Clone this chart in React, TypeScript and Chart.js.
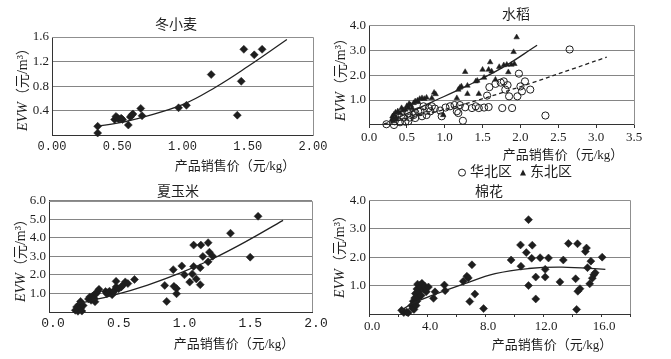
import React, { useEffect, useRef } from 'react';
import { Chart, registerables } from 'chart.js';

Chart.register(...registerables);

const W = 671;
const H = 359;

// ---------- 冬小麦 ----------
const wheatPoints: number[][] = [
  [0.35, 0.15], [0.35, 0.04], [0.48, 0.26], [0.49, 0.31], [0.5, 0.29], [0.51, 0.27],
  [0.53, 0.28], [0.54, 0.26], [0.585, 0.17], [0.6, 0.3], [0.61, 0.33], [0.62, 0.35],
  [0.68, 0.44], [0.69, 0.32], [0.97, 0.45], [1.03, 0.49], [1.22, 0.99], [1.42, 0.33],
  [1.45, 0.88], [1.47, 1.4], [1.55, 1.31], [1.61, 1.4],
];
const wheatFit: number[][] = [
  [0.35, 0.15], [0.5, 0.2], [0.7, 0.3], [1.0, 0.5], [1.25, 0.78], [1.5, 1.12], [1.8, 1.56],
];
const wheatXTicks = [0, 0.5, 1, 1.5, 2];
const wheatYTicks = [0, 0.4, 0.8, 1.2, 1.6];

// ---------- 水稻 ----------
const riceNorthChina: number[][] = [
  [0.23, 0.03], [0.33, 0.0], [0.34, 0.15], [0.41, 0.11], [0.43, 0.4], [0.46, 0.3], [0.48, 0.13],
  [0.52, 0.47], [0.52, 0.15], [0.54, 0.3], [0.59, 0.4], [0.61, 0.28], [0.61, 0.5], [0.65, 0.55],
  [0.68, 0.56], [0.7, 0.35], [0.72, 0.75], [0.76, 0.4], [0.79, 0.68], [0.81, 0.55], [0.83, 0.75],
  [0.87, 0.66], [0.94, 0.58], [0.96, 0.35], [1.01, 0.7], [1.07, 0.75], [1.13, 0.8], [1.16, 0.55],
  [1.2, 0.8], [1.18, 0.48], [1.24, 0.17], [1.27, 0.71], [1.36, 0.68], [1.41, 0.75], [1.45, 0.68],
  [1.52, 0.7], [1.58, 0.72], [1.56, 1.18], [1.59, 1.52], [1.67, 1.65], [1.74, 1.7], [1.76, 0.68],
  [1.78, 1.75], [1.8, 1.42], [1.83, 1.6], [1.85, 1.15], [1.89, 0.68], [1.96, 1.15], [1.98, 2.06],
  [2.0, 1.55], [2.02, 1.35], [2.06, 1.75], [2.13, 1.42], [2.33, 0.38], [2.65, 3.03],
];
const riceNortheast: number[][] = [
  [0.3, 0.2], [0.31, 0.35], [0.32, 0.28], [0.32, 0.15], [0.33, 0.42], [0.35, 0.22], [0.35, 0.5],
  [0.36, 0.3], [0.38, 0.55], [0.41, 0.48], [0.43, 0.68], [0.45, 0.6], [0.48, 0.62], [0.5, 0.76],
  [0.52, 0.7], [0.53, 0.85], [0.55, 0.8], [0.57, 0.68], [0.59, 0.88], [0.61, 0.95], [0.64, 0.98],
  [0.65, 0.92], [0.67, 1.05], [0.7, 1.08], [0.73, 1.05], [0.76, 1.1], [0.83, 1.08], [0.86, 1.3],
  [0.88, 1.24], [0.98, 0.4], [1.16, 1.08], [1.18, 1.42], [1.2, 1.5], [1.22, 1.55], [1.27, 2.13],
  [1.3, 1.25], [1.3, 1.58], [1.41, 1.75], [1.43, 1.78], [1.45, 1.25], [1.5, 2.22], [1.52, 1.9],
  [1.58, 2.22], [1.6, 2.52], [1.62, 2.15], [1.67, 1.82], [1.72, 2.33], [1.78, 2.4], [1.82, 2.42],
  [1.84, 2.12], [1.88, 2.42], [1.92, 2.45], [1.91, 2.93], [1.95, 3.52],
];
const riceNorthChinaFit: number[][] = [[0.2, 0.05], [0.6, 0.33], [1.0, 0.62], [1.74, 1.28], [3.14, 2.72]];
const riceNortheastFit: number[][] = [[0.3, 0.18], [0.8, 0.88], [1.3, 1.58], [1.75, 2.28], [2.22, 3.2]];
const riceXTicks = [0, 0.5, 1, 1.5, 2, 2.5, 3, 3.5];
const riceYTicks = [0, 1, 2, 3, 4];

// ---------- 夏玉米 ----------
const cornPoints: number[][] = [
  [0.2, 0.09], [0.21, 0.27], [0.22, 0.04], [0.23, 0.4], [0.24, 0.57], [0.24, 0.2], [0.25, 0.05],
  [0.26, 0.35], [0.3, 0.7], [0.31, 0.81], [0.32, 0.63], [0.33, 0.75], [0.33, 0.85], [0.34, 0.9],
  [0.345, 0.72], [0.35, 0.55], [0.36, 1.0], [0.37, 1.12], [0.38, 1.22], [0.43, 1.1], [0.44, 0.98],
  [0.45, 1.05], [0.46, 1.12], [0.48, 0.93], [0.49, 1.08], [0.5, 1.18], [0.51, 1.65], [0.51, 1.35],
  [0.53, 1.25], [0.55, 1.35], [0.565, 1.47], [0.58, 1.62], [0.6, 1.53], [0.65, 1.75], [0.88, 1.43],
  [0.895, 0.57], [0.945, 2.28], [0.95, 1.38], [0.97, 1.26], [0.97, 0.98], [1.01, 2.48], [1.03, 2.0],
  [1.07, 1.61], [1.09, 2.05], [1.1, 2.45], [1.1, 3.6], [1.12, 1.78], [1.15, 1.47], [1.15, 2.38],
  [1.155, 3.6], [1.17, 2.99], [1.21, 3.73], [1.21, 2.7], [1.22, 3.22], [1.245, 3.0], [1.38, 4.24],
  [1.53, 2.95], [1.59, 5.15],
];
const cornFit: number[][] = [[0.22, 0.45], [0.5, 0.92], [0.75, 1.45], [1.0, 2.1], [1.25, 2.88], [1.5, 3.8], [1.78, 4.93]];
const cornXTicks = [0, 0.5, 1, 1.5, 2];
const cornYTicks = [0, 1, 2, 3, 4, 5, 6];

// ---------- 棉花 ----------
const cottonPoints: number[][] = [
  [2.25, 0.13], [2.4, 0.05], [2.6, 0.07], [2.7, 0.04], [2.95, 0.3], [3.0, 0.2], [3.05, 0.45],
  [3.1, 0.16], [3.15, 0.56], [3.2, 0.72], [3.25, 0.3], [3.3, 0.88], [3.3, 0.45], [3.35, 1.05],
  [3.4, 0.78], [3.45, 0.6], [3.5, 1.0], [3.55, 0.95], [3.6, 0.65], [3.65, 1.08], [3.75, 0.88],
  [3.8, 0.95], [3.85, 0.98], [3.95, 0.78], [4.1, 0.95], [4.45, 0.55], [4.55, 0.78], [5.2, 1.02],
  [5.25, 0.82], [6.5, 1.15], [6.75, 1.33], [6.85, 1.27], [6.95, 0.44], [7.1, 1.73], [7.3, 0.7],
  [7.9, 0.19], [9.8, 1.9], [10.45, 2.43], [10.48, 1.68], [10.85, 2.16], [11.0, 3.32], [11.0, 1.0],
  [11.22, 1.96], [11.26, 2.42], [11.5, 1.3], [11.5, 0.53], [11.8, 1.98], [12.15, 1.57], [12.15, 1.3],
  [12.38, 1.97], [13.17, 1.13], [13.4, 1.9], [13.75, 2.48], [14.25, 1.24], [14.32, 0.16],
  [14.38, 2.47], [14.4, 0.8], [14.55, 0.89], [14.92, 2.2], [15.0, 2.32], [15.07, 1.63], [15.22, 1.06],
  [15.3, 1.86], [15.4, 1.26], [15.5, 1.38], [15.6, 1.45], [16.08, 2.0],
];
const cottonFit: number[][] = [[2.2, 0.12], [3.0, 0.37], [4.5, 0.68], [6.5, 1.05], [8.7, 1.42], [11.0, 1.6], [13.3, 1.65], [16.3, 1.57]];
const cottonXTicks = [0, 2, 4, 6, 8, 10, 12, 14, 16, 18];
const cottonXLabels = [0, 4, 8, 12, 16];
const cottonYTicks = [0, 1, 2, 3, 4];

// ---------- styling ----------
const INK = '#1e1e1e';
const toXY = (arr: number[][]) => arr.map(([x, y]) => ({ x, y }));

const diamonds = (arr: number[][]) => ({
  data: toXY(arr),
  pointStyle: 'rectRot',
  pointRadius: 4,
  backgroundColor: INK,
  borderColor: INK,
  borderWidth: 0.5,
  showLine: false,
  clip: false,
});

const fitLine = (arr: number[][], dash: number[] = []) => ({
  data: toXY(arr),
  showLine: true,
  pointRadius: 0,
  borderColor: '#222',
  borderWidth: 1.3,
  borderDash: dash,
  tension: 0.4,
  fill: false,
});

const boxPlugin = {
  id: 'boxPlugin',
  beforeDatasetsDraw(chart: any) {
    const { ctx, chartArea: a } = chart;
    ctx.save();
    ctx.strokeStyle = '#8f8f8f';
    ctx.lineWidth = 1;
    const r = Math.round(a.right) + 0.5;
    const t = Math.round(a.top) + 0.5;
    ctx.beginPath();
    ctx.moveTo(Math.round(a.left), t);
    ctx.lineTo(r, t);
    ctx.lineTo(r, Math.round(a.bottom));
    ctx.stroke();
    ctx.restore();
  },
};

type Spec = {
  area: [number, number, number, number];
  xTicks: number[];
  xFmt: (v: number) => string;
  xFont: string;
  xSize: number;
  xMarks: boolean;
  xOffset: number;
  yTicks: number[];
  yFmt: (v: number) => string;
  datasets: any[];
};

function buildConfig(s: Spec): any {
  const [l, t, r, b] = s.area;
  const YW = 40;
  const XH = 22;
  return {
    type: 'scatter',
    data: { datasets: s.datasets },
    options: {
      responsive: false,
      animation: false,
      devicePixelRatio: 1,
      events: [],
      layout: { padding: { left: l - YW, top: t, right: W - r, bottom: H - b - XH } },
      plugins: { legend: { display: false }, tooltip: { enabled: false } },
      scales: {
        x: {
          type: 'linear',
          position: 'bottom',
          min: s.xTicks[0],
          max: s.xTicks[s.xTicks.length - 1],
          afterFit: (sc: any) => { sc.height = XH; },
          afterBuildTicks: (sc: any) => { sc.ticks = s.xTicks.map((v) => ({ value: v })); },
          ticks: {
            autoSkip: false,
            maxRotation: 0,
            padding: s.xMarks ? 2 : 4,
            labelOffset: s.xOffset,
            color: INK,
            font: { family: s.xFont, size: s.xSize },
            callback: (v: any) => s.xFmt(Number(v)),
          },
          grid: { drawOnChartArea: false, drawTicks: s.xMarks, tickLength: 3, color: '#333' },
          border: { color: '#333', width: 1 },
        },
        y: {
          type: 'linear',
          min: s.yTicks[0],
          max: s.yTicks[s.yTicks.length - 1],
          afterFit: (sc: any) => { sc.width = YW; },
          afterBuildTicks: (sc: any) => { sc.ticks = s.yTicks.map((v) => ({ value: v })); },
          ticks: {
            autoSkip: false,
            padding: 3,
            color: INK,
            font: { family: "'Liberation Serif', serif", size: 13 },
            callback: (v: any) => s.yFmt(Number(v)),
          },
          grid: { color: '#858585', lineWidth: 1, drawTicks: false },
          border: { color: '#333', width: 1 },
        },
      },
    },
    plugins: [boxPlugin],
  };
}

const yOne = (v: number) => (v === 0 ? '' : v.toFixed(1));

const specs: Spec[] = [
  {
    area: [52, 37, 313, 135.5],
    xTicks: wheatXTicks,
    xFmt: (v) => v.toFixed(2),
    xFont: "'Liberation Mono', monospace",
    xSize: 12,
    xMarks: false,
    xOffset: 0,
    yTicks: wheatYTicks,
    yFmt: yOne,
    datasets: [fitLine(wheatFit), diamonds(wheatPoints)],
  },
  {
    area: [369, 25.3, 634, 125],
    xTicks: riceXTicks,
    xFmt: (v) => v.toFixed(1),
    xFont: "'Liberation Serif', serif",
    xSize: 13,
    xMarks: true,
    xOffset: 0,
    yTicks: riceYTicks,
    yFmt: yOne,
    datasets: [
      fitLine(riceNortheastFit),
      fitLine(riceNorthChinaFit, [4, 3]),
      {
        label: '华北区',
        data: toXY(riceNorthChina),
        pointStyle: 'circle',
        pointRadius: 3.6,
        backgroundColor: 'rgba(255,255,255,0)',
        borderColor: INK,
        borderWidth: 1,
        showLine: false,
        clip: false,
      },
      {
        label: '东北区',
        data: toXY(riceNortheast),
        pointStyle: 'triangle',
        pointRadius: 3.2,
        backgroundColor: INK,
        borderColor: INK,
        borderWidth: 0.5,
        showLine: false,
        clip: false,
      },
    ],
  },
  {
    area: [49, 200.5, 312, 312],
    xTicks: cornXTicks,
    xFmt: (v) => v.toFixed(1),
    xFont: "'Liberation Mono', monospace",
    xSize: 13,
    xMarks: false,
    xOffset: 4,
    yTicks: cornYTicks,
    yFmt: yOne,
    datasets: [fitLine(cornFit), diamonds(cornPoints)],
  },
  {
    area: [369, 200.3, 630, 314],
    xTicks: cottonXTicks,
    xFmt: (v) => (cottonXLabels.includes(v) ? v.toFixed(1) : ''),
    xFont: "'Liberation Serif', serif",
    xSize: 13,
    xMarks: true,
    xOffset: 3,
    yTicks: cottonYTicks,
    yFmt: yOne,
    datasets: [fitLine(cottonFit), diamonds(cottonPoints)],
  },
];

function Panel({ spec }: { spec: Spec }) {
  const ref = useRef<HTMLCanvasElement>(null);
  useEffect(() => {
    const chart = new Chart(ref.current as HTMLCanvasElement, buildConfig(spec));
    return () => chart.destroy();
  }, [spec]);
  return (
    <canvas
      ref={ref}
      width={W}
      height={H}
      style={{ position: 'absolute', left: 0, top: 0, width: W, height: H }}
    />
  );
}

const FONT = "'Liberation Serif', 'Noto Sans CJK SC', serif";

function Label({ x, y, size = 13, rotate = false, children }: any) {
  return (
    <div
      style={{
        position: 'absolute',
        left: x,
        top: y,
        transform: `translate(-50%, -50%)${rotate ? ' rotate(-90deg)' : ''}`,
        whiteSpace: 'nowrap',
        fontFamily: FONT,
        fontSize: size,
        color: INK,
        lineHeight: 1,
      }}
    >
      {children}
    </div>
  );
}

const YTitle = ({ x, y }: { x: number; y: number }) => (
  <Label x={x} y={y} size={14} rotate>
    <span style={{ fontStyle: 'italic' }}>EVW</span>（元/m³）
  </Label>
);

export default function App() {
  return (
    <div style={{ position: 'fixed', left: 0, top: 0, width: W, height: H, background: '#fff', overflow: 'hidden' }}>
      {specs.map((s, i) => (
        <Panel key={i} spec={s} />
      ))}
      <Label x={176} y={25} size={14}>冬小麦</Label>
      <Label x={516} y={15} size={14}>水稻</Label>
      <Label x={178} y={192} size={14}>夏玉米</Label>
      <Label x={489} y={192} size={14}>棉花</Label>

      <Label x={235} y={165}>产品销售价（元/kg）</Label>
      <Label x={563} y={154}>产品销售价（元/kg）</Label>
      <Label x={234} y={343}>产品销售价（元/kg）</Label>
      <Label x={552} y={344}>产品销售价（元/kg）</Label>

      <YTitle x={23} y={86} />
      <YTitle x={341} y={76} />
      <YTitle x={21} y={257} />
      <YTitle x={340} y={253} />

      <Label x={515} y={172} size={14}>
        <span
          style={{
            display: 'inline-block',
            width: 6,
            height: 6,
            border: `1px solid ${INK}`,
            borderRadius: '50%',
            marginRight: 4,
            verticalAlign: 'middle',
          }}
        />
        <span style={{ verticalAlign: 'middle' }}>华北区</span>
        <span
          style={{
            display: 'inline-block',
            width: 0,
            height: 0,
            borderLeft: '3.5px solid transparent',
            borderRight: '3.5px solid transparent',
            borderBottom: `6px solid ${INK}`,
            marginLeft: 8,
            marginRight: 4,
            verticalAlign: 'middle',
          }}
        />
        <span style={{ verticalAlign: 'middle' }}>东北区</span>
      </Label>
    </div>
  );
}
